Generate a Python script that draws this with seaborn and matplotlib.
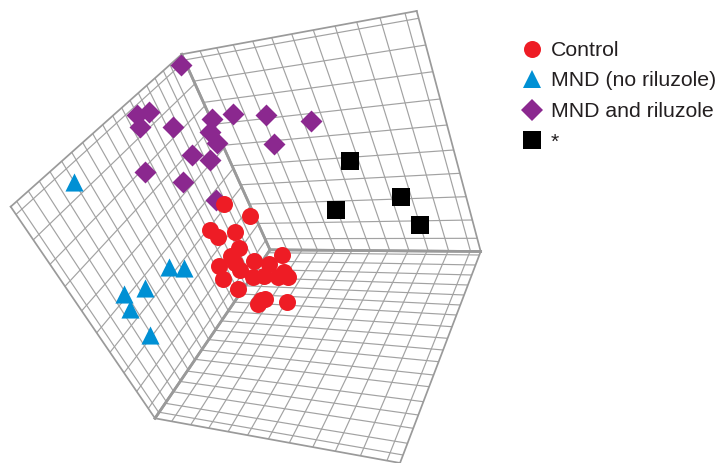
import numpy as np
import pandas as pd
import matplotlib
matplotlib.use("Agg")
import matplotlib.pyplot as plt
import seaborn as sns

control_x = [224, 249.7, 210, 218.3, 234.7, 239.3, 282.3, 230.7, 235, 219.3, 240, 254, 268.7, 252.7, 264, 278.3, 284.3, 287.7, 222.7, 237.7, 258.3, 265, 260.7, 287]
control_y = [203.7, 216.3, 230, 237.3, 231.7, 247.7, 254.7, 255.7, 262.7, 266, 270, 261.3, 264, 277.3, 276, 277.3, 272.3, 277.3, 279.3, 289.3, 304, 299.3, 300, 302.3]
mnd_x = [74, 169.3, 184.3, 145, 124, 130, 150]
mnd_y = [182, 267.3, 268.3, 288, 293.7, 309, 334.7]
riluzole_x = [180.5, 137, 148.7, 140, 173.3, 211.7, 233.3, 210, 216.7, 191.7, 210, 145, 183.3, 216, 266, 310.7, 274.3]
riluzole_y = [64.7, 115, 111.7, 127.3, 126.7, 119, 114.3, 131.7, 143.3, 155.3, 160, 172, 181.7, 200, 114.7, 120.7, 144]
star_x = [350.3, 401.3, 336.3, 420.3]
star_y = [161.3, 197.3, 210.3, 225.3]

labels = ["Control", "MND (no riluzole)", "MND and riluzole", "*"]
colors = ["#EE1C25", "#0090D4", "#8B288F", "#000000"]
markers = ["o", "^", "D", "s"]
sizes = [150, 170, 125, 150]
orders = [5, 4, 3, 4]

GRID = "#A2A2A2"
FRAME = "#9A9A9A"

# Box corners as drawn on the page
centre = (270, 249.8)
top_l = (181.7, 54.3)
top_r = (416.7, 11)
right = (480.7, 251.5)
left_t = (10.7, 206.7)
bottom = (155, 418.3)
floor_r = (400, 463)

# Where the grid lines cross a panel edge
back_top_x = [200, 216.7, 233.3, 252.7, 271.7, 291.7, 313.3, 335, 356.7, 380, 405]
back_right_y = [18.3, 45, 71.7, 99, 125, 150, 173.3, 196.7, 220, 238.3]
left_top_x = [16.7, 28.3, 39.3, 50, 61.7, 71.7, 82.7, 92.7, 102.7, 112.7, 121.7, 130, 138.3, 146.7, 155, 163.3, 170]
left_low_x = [16, 33.3, 50, 65, 81.7, 96.7, 110, 124, 136.7, 148.3]
floor_back_x = [285, 302, 318, 335, 352, 370, 388, 408, 427, 448, 470]
floor_right_y = [255, 265, 275, 285, 295, 305, 315, 326.7, 338.3, 350, 361.7, 375, 386.7, 401.7, 415, 428.3, 443.3, 455]


def homography(q):
    src = [(0, 0), (1, 0), (1, 1), (0, 1)]
    A, b = [], []
    for (u, v), (x, y) in zip(src, q):
        A.append([u, v, 1, 0, 0, 0, -u * x, -v * x]); b.append(x)
        A.append([0, 0, 0, u, v, 1, -u * y, -v * y]); b.append(y)
    return np.append(np.linalg.solve(np.array(A, float), np.array(b, float)), 1).reshape(3, 3)


def on_edge(a, b, val, axis):
    t = (val - a[axis]) / (b[axis] - a[axis])
    return (a[0] + t * (b[0] - a[0]), a[1] + t * (b[1] - a[1]))


def panel(ax, quad, u_edge, u_vals, u_axis, v_edge, v_vals, v_axis, thick):
    """Grid of one wall: lines of constant u and v through the page crossings."""
    H = homography(quad)
    Hi = np.linalg.inv(H)

    def unit(p):
        r = Hi @ np.array([p[0], p[1], 1.0])
        return r[:2] / r[2]

    def seg(p0, p1):
        pts = H @ np.array([[p0[0], p0[1], 1], [p1[0], p1[1], 1]], float).T
        pts = pts[:2] / pts[2]
        ax.plot(pts[0], pts[1], color=GRID, lw=0.85, zorder=1, solid_capstyle="butt")

    for val in u_vals:
        u = unit(on_edge(u_edge[0], u_edge[1], val, u_axis))[0]
        seg((u, 0), (u, 1))
    for val in v_vals:
        v = unit(on_edge(v_edge[0], v_edge[1], val, v_axis))[1]
        seg((0, v), (1, v))
    n = len(quad)
    for i in range(n):
        a, b = quad[i], quad[(i + 1) % n]
        w = 1.9 if i in thick else 1.25
        ax.plot([a[0], b[0]], [a[1], b[1]], color=FRAME, lw=w, zorder=2, solid_capstyle="projecting")


fig = plt.figure(figsize=(7.18, 4.63), dpi=100)
sns.set_style("white")
plt.rcParams["font.family"] = ["Liberation Sans", "DejaVu Sans"]
ax = fig.add_axes([0, 0, 1, 1])

panel(ax, [centre, right, top_r, top_l],
      (top_l, top_r), back_top_x, 0, (right, top_r), back_right_y, 1, thick=(0, 3))
panel(ax, [centre, top_l, left_t, bottom],
      (left_t, bottom), left_low_x, 0, (left_t, top_l), left_top_x, 0, thick=(0, 3))
panel(ax, [centre, right, floor_r, bottom],
      (centre, right), floor_back_x, 0, (right, floor_r), floor_right_y, 1, thick=(0, 3))

groups = [(control_x, control_y), (mnd_x, mnd_y), (riluzole_x, riluzole_y), (star_x, star_y)]
for (gx, gy), lab, col, mk, sz, zo in zip(groups, labels, colors, markers, sizes, orders):
    df = pd.DataFrame({"x": gx, "y": gy})
    sns.scatterplot(data=df, x="x", y="y", color=col, marker=mk, s=sz, linewidth=0,
                    zorder=zo, ax=ax, legend=False, clip_on=False)
ax.set_xlim(0, 718)
ax.set_ylim(463, 0)
ax.axis("off")

handles = [plt.Line2D([], [], ls="", marker=m, color=c, markeredgewidth=0,
                      markersize=np.sqrt(s)) for m, c, s in zip(markers, colors, sizes)]
ax.legend(handles, labels, loc="upper left", bbox_to_anchor=(519.5 / 718, 1 - 41 / 463),
          frameon=False, fontsize=15.3, labelcolor="#231F20", handletextpad=0.29,
          labelspacing=0.54, borderpad=0, borderaxespad=0, handlelength=1.2)
fig.savefig("out.png", dpi=100)
